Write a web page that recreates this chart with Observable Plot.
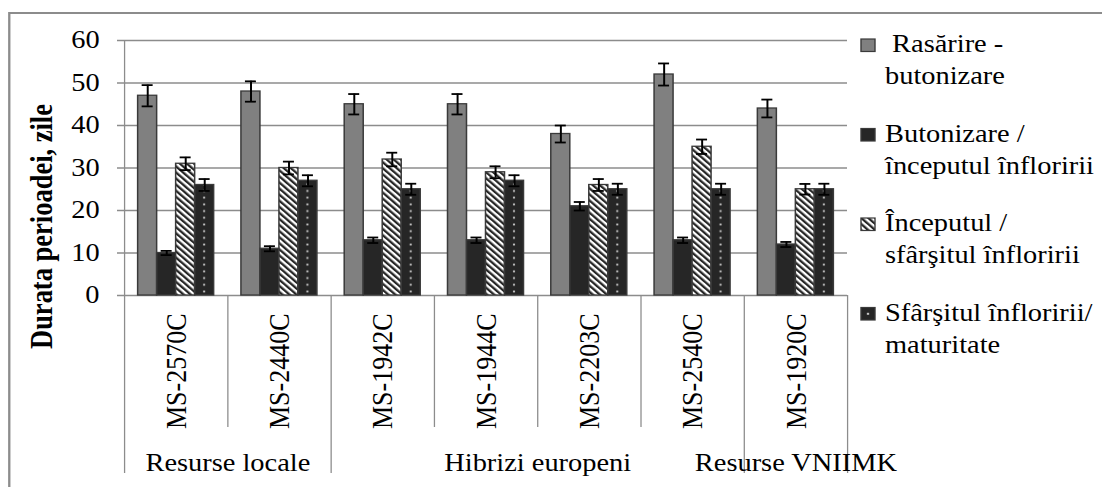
<!DOCTYPE html>
<html><head><meta charset="utf-8">
<script src="https://cdn.jsdelivr.net/npm/d3@7"></script>
<script src="https://cdn.jsdelivr.net/npm/@observablehq/plot@0.6"></script>
<style>
html,body{margin:0;padding:0;background:#fff;overflow:hidden;width:1102px;height:487px}
.wrap{position:relative;width:950px;height:487px;transform:scaleX(1.16);transform-origin:0 0;font-family:"Liberation Serif",serif}
.frm{position:absolute;left:6.9px;top:12px;width:1000px;height:1000px;border:2px solid #8c8c8c;box-sizing:border-box}
.wrap svg{position:absolute;left:0;top:0}
.wrap svg text{font-family:"Liberation Serif",serif !important}
</style></head><body>
<div class="wrap"><div class="frm"></div></div>
<script>
// ---- data ----
const categories = ["MS-2570C","MS-2440C","MS-1942C","MS-1944C","MS-2203C","MS-2540C","MS-1920C"];
const groupNames = ["Resurse locale","Hibrizi europeni","Resurse VNIIMK"];
const groupSizes = [2,4,1];
const seriesNames = ["Rasărire - butonizare","Butonizare / începutul înfloririi","Începutul / sfârşitul înfloririi","Sfârşitul înfloririi/ maturitate"];
const legendLines = [[" Rasărire -","butonizare"],["Butonizare /","începutul înfloririi"],["Începutul /","sfârşitul înfloririi"],["Sfârşitul înfloririi/","maturitate"]];
const rasarireButonizare = [47,48,45,45,38,52,44];
const butonizareInflorire = [10,11,13,13,21,13,12];
const inceputSfarsit = [31,30,32,29,26,35,25];
const sfarsitMaturitate = [26,27,25,27,25,25,25];
const errRasarire = [2.5,2.4,2.4,2.4,2.0,2.6,2.1];
const errButonizare = [0.5,0.6,0.65,0.65,1.0,0.65,0.6];
const errInceput = [1.5,1.5,1.6,1.4,1.4,1.7,1.25];
const errSfarsit = [1.4,1.3,1.3,1.3,1.3,1.3,1.3];
const yTicks = [0,10,20,30,40,50,60];
const yLabel = "Durata perioadei, zile";

// ---- layout ----
const FONT = "Liberation Serif";
const S = 1.16;                 // horizontal text stretch of the original
const W = 1102 / S, H = 487;
const mTop = 40, mBottom = H - 295;
const plotLeft = 124 / S, plotRight = 847 / S;
const B = (plotRight - plotLeft) / categories.length;
const bw = 19 / S, capW = 11 / S;
const pxPerUnit = (295 - 40) / 60;
const below = px => -px / pxPerUnit;   // offset below the axis, in y units

const values = [rasarireButonizare, butonizareInflorire, inceputSfarsit, sfarsitMaturitate];
const errors = [errRasarire, errButonizare, errInceput, errSfarsit];
const fills = ["#808080","#262626","url(#hatchPat)","url(#dotsPat)"];
const table = categories.map((cat,i)=>({cat, v: values.map(s=>s[i]), e: errors.map(s=>s[i])}));

const marks = [];
marks.push(Plot.ruleY(yTicks, {stroke:"#8c8c8c", strokeWidth:1.4, insetLeft:-7/S}));
values.forEach((_,j)=>{
  const dx = (j-1.5)*bw, inset = (B-bw)/2;
  marks.push(Plot.barY(table, {x:"cat", y:d=>d.v[j], fill:fills[j], stroke:"#3a3a3a", strokeWidth:1.3, insetLeft:inset, insetRight:inset, dx}));
});
values.forEach((_,j)=>{
  const dx = (j-1.5)*bw, ci = (B-capW)/2;
  marks.push(Plot.ruleX(table, {x:"cat", y1:d=>d.v[j]-d.e[j], y2:d=>d.v[j]+d.e[j], stroke:"#000", strokeWidth:1.7, dx}));
  marks.push(Plot.tickY(table, {x:"cat", y:d=>d.v[j]+d.e[j], stroke:"#000", strokeWidth:1.8, insetLeft:ci, insetRight:ci, dx}));
  marks.push(Plot.tickY(table, {x:"cat", y:d=>d.v[j]-d.e[j], stroke:"#000", strokeWidth:1.8, insetLeft:ci, insetRight:ci, dx}));
});
// separators under the axis
let acc = 0; const groupStarts = new Set(groupSizes.map(n=>{const s=acc; acc+=n; return s;}));
const bounds = categories.map((cat,i)=>({cat, first:i===0, group:groupStarts.has(i)}));
marks.push(Plot.ruleX(bounds, {x:"cat", dx:-B/2, y1:d=>d.first?60:0, y2:d=>d.group?below(178):below(132), stroke:"#8c8c8c", strokeWidth:1.1}));
marks.push(Plot.ruleX([categories[categories.length-1]], {x:d=>d, dx:B/2, y1:0, y2:below(178), stroke:"#8c8c8c", strokeWidth:1.1}));
// category labels
marks.push(Plot.text(categories, {x:d=>d, frameAnchor:"bottom", dy:18, rotate:-90, textAnchor:"end", lineAnchor:"middle", fontSize:26, fill:"#000", fontFamily:FONT}));
// group labels
acc = 0;
groupNames.forEach((g,k)=>{
  const start = acc; acc += groupSizes[k];
  marks.push(Plot.text([g], {x:()=>categories[start], dx:(groupSizes[k]-1)/2*B, frameAnchor:"bottom", dy:175, lineAnchor:"bottom", textAnchor:"middle", fontSize:24.5, fill:"#000", fontFamily:FONT}));
});
// y title
marks.push(Plot.text([yLabel], {frameAnchor:"left", dx:(42-124)/S, dy:226-167.5, rotate:-90, lineAnchor:"middle", textAnchor:"middle", fontWeight:"bold", fontSize:26.5, fill:"#000", fontFamily:FONT}));

const chart = Plot.plot({
  width: W, height: H,
  marginLeft: plotLeft, marginRight: W - plotRight, marginTop: mTop, marginBottom: mBottom,
  x: {domain: categories, padding: 0, round: false, axis: null},
  y: {domain: [0,60], ticks: yTicks, tickSize: 0, tickPadding: (124-99)/S, label: null},
  style: {fontFamily: FONT, fontSize: "24.5px", color: "#000", background: "transparent", overflow: "visible"},
  marks
});
document.querySelector(".wrap").appendChild(chart);

// patterns
const svg = d3.select(chart);
const defs = svg.insert("defs", ":first-child");
const hp = 4.3;
const hatch = defs.append("pattern").attr("id","hatchPat").attr("patternUnits","userSpaceOnUse").attr("width",hp).attr("height",hp).attr("patternTransform","rotate(-45)");
hatch.append("rect").attr("width",hp).attr("height",hp).attr("fill","#fff");
hatch.append("rect").attr("width",hp/2).attr("height",hp).attr("fill","#262626");
const dh = 6.7;
const dots = defs.append("pattern").attr("id","dotsPat").attr("patternUnits","userSpaceOnUse").attr("x",plotLeft).attr("y",0).attr("width",B).attr("height",dh);
dots.append("rect").attr("width",B).attr("height",dh).attr("fill","#262626");
dots.append("rect").attr("x",B/2-0.9).attr("y",dh/2-0.9).attr("width",1.8).attr("height",1.8).attr("fill","#c4c4c4");

// legend (inside the same svg)
const lg = svg.append("g").attr("aria-label","legend").attr("text-anchor","start");
const base = [52.5,142,231.5,321];
legendLines.forEach((lines,k)=>{
  const y = base[k];
  lg.append("rect").attr("x",861/S).attr("y",y-13.5).attr("width",14/S).attr("height",12.5)
    .attr("fill", k===3 ? "#262626" : fills[k]).attr("stroke","#3a3a3a").attr("stroke-width",1.2);
  if (k===3) lg.append("rect").attr("x",861/S+7/S-1).attr("y",y-8.2).attr("width",2).attr("height",2).attr("fill","#c4c4c4");
  lines.forEach((t,m)=>{
    lg.append("text").attr("x",885/S).attr("y",y+m*32).attr("text-anchor","start").attr("font-size","24.5px").attr("font-family",FONT).attr("fill","#000")
      .style("white-space","pre").text(t);
  });
});
</script></body></html>
